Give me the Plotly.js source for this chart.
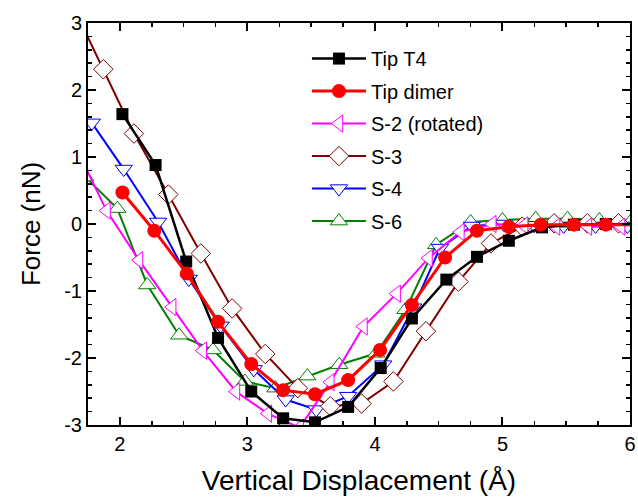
<!DOCTYPE html>
<html>
<head>
<meta charset="utf-8">
<script src="https://cdn.plot.ly/plotly-3.0.1.min.js"></script>
<style>html,body{margin:0;padding:0;background:#fff;}#chart{width:638px;height:500px;}</style>
</head>
<body>
<div id="chart"></div>
<script>
// Tip T4
var t4X = [2.02, 2.28, 2.52, 2.77, 3.03, 3.28, 3.53, 3.79, 4.045, 4.29, 4.56, 4.80, 5.05, 5.31, 5.56, 5.81, 6.06];
var t4Y = [1.64, 0.88, -0.56, -1.70, -2.50, -2.90, -2.96, -2.73, -2.15, -1.41, -0.83, -0.49, -0.25, -0.05, -0.01, 0.0, 0.0];
// Tip dimer
var dimerX = [2.02, 2.27, 2.525, 2.77, 3.03, 3.28, 3.53, 3.79, 4.04, 4.29, 4.55, 4.80, 5.05, 5.30, 5.56, 5.81, 6.06];
var dimerY = [0.47, -0.10, -0.74, -1.46, -2.09, -2.48, -2.54, -2.33, -1.88, -1.21, -0.50, -0.10, -0.04, -0.01, -0.01, -0.01, -0.01];
// S-2 (rotated)
var s2X = [1.64, 1.895, 2.15, 2.41, 2.65, 2.91, 3.16, 3.41, 3.65, 3.91, 4.17, 4.42, 4.67, 4.92, 5.17, 5.42, 5.67, 5.93];
var s2Y = [1.20, 0.20, -0.54, -1.24, -1.89, -2.50, -2.83, -3.04, -2.36, -1.53, -1.04, -0.51, -0.12, 0.0, -0.02, -0.04, -0.04, -0.04];
// S-3
var s3X = [1.62, 1.87, 2.11, 2.38, 2.635, 2.88, 3.14, 3.395, 3.65, 3.895, 4.145, 4.40, 4.655, 4.91, 5.155, 5.405, 5.665, 5.91];
var s3Y = [3.30, 2.31, 1.35, 0.44, -0.44, -1.26, -1.94, -2.45, -2.72, -2.68, -2.35, -1.60, -0.86, -0.29, -0.04, 0.01, 0.01, 0.01];
// S-4
var s4X = [1.78, 2.03, 2.30, 2.54, 2.79, 3.05, 3.30, 3.54, 3.79, 4.065, 4.30, 4.51, 4.76, 5.01, 5.25, 5.48, 5.73, 5.98];
var s4Y = [1.51, 0.82, 0.03, -0.82, -1.52, -2.17, -2.62, -2.77, -2.57, -2.10, -1.25, -0.36, -0.03, 0.0, -0.02, -0.03, -0.03, -0.03];
// S-6
var s6X = [1.73, 1.98, 2.215, 2.465, 2.73, 2.98, 3.22, 3.47, 3.72, 4.01, 4.24, 4.48, 4.75, 5.0, 5.26, 5.51, 5.76, 6.01];
var s6Y = [0.70, 0.23, -0.91, -1.66, -1.88, -2.35, -2.45, -2.27, -2.10, -1.93, -1.28, -0.31, 0.03, 0.06, 0.08, 0.08, 0.06, 0.05];

var names = ['Tip T4', 'Tip dimer', 'S-2 (rotated)', 'S-3', 'S-4', 'S-6'];
var xTickVals = [2, 3, 4, 5, 6];
var yTickVals = [-3, -2, -1, 0, 1, 2, 3];

function tr(x, y, name, color, lw, sym, size, fillOpen) {
  return {
    x: x, y: y, name: name, type: 'scatter', mode: 'lines+markers',
    legendgroup: name,
    line: {color: color, width: lw},
    marker: {symbol: sym, size: size, color: fillOpen ? '#ffffff' : color,
             line: {color: color, width: fillOpen ? 1 : 0}},
    cliponaxis: true
  };
}

var data = [
  tr(s6X, s6Y, names[5], '#008000', 2, 'triangle-up', 15, true),
  tr(s4X, s4Y, names[4], '#0000ff', 2, 'triangle-down', 15, true),
  tr(s3X, s3Y, names[3], '#800000', 2, 'diamond', 15, true),
  tr(s2X, s2Y, names[2], '#ff00ff', 2, 'triangle-left', 15, true),
  tr(t4X, t4Y, names[0], '#000000', 2.5, 'square', 12, false),
  tr(dimerX, dimerY, names[1], '#ff0000', 3, 'circle', 14, false)
];

var axisCommon = {
  showline: true, linecolor: '#000', linewidth: 2, mirror: 'ticks',
  ticks: 'inside', ticklen: 8, tickwidth: 2, tickcolor: '#000',
  showgrid: false, zeroline: false,
  tickfont: {family: 'Liberation Sans, Arial, sans-serif', size: 20, color: '#000'}
};

var layout = {
  width: 638, height: 500,
  margin: {l: 88, r: 8, t: 23, b: 75},
  paper_bgcolor: '#fff', plot_bgcolor: '#fff',
  font: {family: 'Liberation Sans, Arial, sans-serif', color: '#000'},
  xaxis: Object.assign({}, axisCommon, {
    range: [1.75, 6], tickvals: xTickVals, ticktext: xTickVals.map(String),
    minor: {dtick: 0.25, tick0: 1.75, ticks: 'inside', ticklen: 4, tickwidth: 1.5, tickcolor: '#000'},
    title: {text: 'Vertical Displacement (Å)', font: {size: 28, color: '#000'}, standoff: 16}
  }),
  yaxis: Object.assign({}, axisCommon, {
    range: [-3, 3], tickvals: yTickVals, ticktext: yTickVals.map(String),
    minor: {dtick: 0.2, tick0: 0, ticks: 'inside', ticklen: 4, tickwidth: 1.5, tickcolor: '#000'},
    title: {text: 'Force (nN)', font: {size: 26, color: '#000'}, standoff: 16}
  }),
  showlegend: true,
  legend: {
    x: 0.404, y: 0.96, xanchor: 'left', yanchor: 'top',
    bgcolor: 'rgba(0,0,0,0)', borderwidth: 0,
    font: {size: 20, color: '#000'},
    itemwidth: 54,
    traceorder: 'grouped', tracegroupgap: 3.5
  }
};

// legend order: Tip T4, Tip dimer, S-2, S-3, S-4, S-6
var orderMap = {'Tip T4': 1, 'Tip dimer': 2, 'S-2 (rotated)': 3, 'S-3': 4, 'S-4': 5, 'S-6': 6};
data.forEach(function (d) { d.legendrank = orderMap[d.name]; });

Plotly.newPlot('chart', data, layout, {displayModeBar: false, staticPlot: true});
</script>
</body>
</html>
